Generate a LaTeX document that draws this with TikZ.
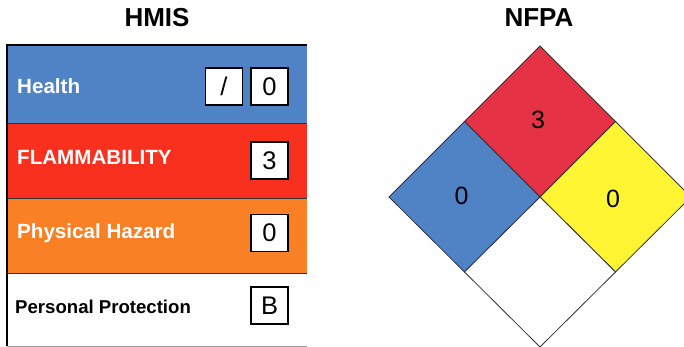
\documentclass[tikz,border=0pt]{standalone}
\usepackage{fontspec}
\setmainfont{Liberation Sans}
\definecolor{hblue}{HTML}{4F83C6}
\definecolor{hred}{HTML}{F9301E}
\definecolor{horange}{HTML}{FA8026}
\definecolor{nred}{HTML}{E63245}
\definecolor{nblue}{HTML}{4F83C6}
\definecolor{nyellow}{HTML}{FFF533}
\begin{document}
\begin{tikzpicture}[x=1pt,y=-1pt,
  title/.style={font=\fontsize{26}{30}\selectfont\bfseries},
  rowlabel/.style={anchor=west,font=\fontsize{20.6}{24}\selectfont\bfseries,text=white,inner sep=0pt},
  valbox/.style={draw=black,line width=1.6pt,fill=white,minimum width=37pt,minimum height=37pt,inner sep=0pt,font=\fontsize{25.5}{28}\selectfont},
  numtext/.style={font=\fontsize{25}{28}\selectfont,inner sep=0pt},
  diam/.style={draw=black!80,line width=0.8pt}]
\useasboundingbox (0,0) rectangle (684,347);
% HMIS
\node[title] (hmis) at (157,18) {HMIS};
\fill[hblue] (7,45) rectangle (307,123);
\fill[hred] (7,123) rectangle (307,198);
\fill[horange] (7,198) rectangle (307,273);
\fill[white] (7,273) rectangle (307,346);
\draw[line width=1.6pt] (307,45) -- (7,45) -- (7,346);
\draw[line width=0.8pt,black!80] (7,123) -- (307,123);
\draw[line width=0.8pt,black!80] (7,198) -- (307,198);
\draw[line width=0.8pt,black!80] (7,273) -- (307,273);
\draw[line width=0.8pt,black!40] (7,346) -- (307,346);
\node[rowlabel] (health) at (17,86) {Health};
\node[rowlabel] (flam) at (17,157) {FLAMMABILITY};
\node[rowlabel] (phys) at (17,233) {Physical Hazard};
\node[rowlabel,text=black,font=\fontsize{18.6}{22}\selectfont\bfseries] (pers) at (15,307) {Personal Protection};
\node[valbox] (hslash) at (224,86.5) {/};
\node[valbox] (hval) at (269.5,86.5) {0};
\node[valbox] (fval) at (269.5,160.5) {3};
\node[valbox] (pval) at (269.5,233) {0};
\node[valbox] (ppval) at (269.5,305.5) {B};
% NFPA
\node[title] (nfpa) at (539,18) {NFPA};
\coordinate (T) at (540,46);
\coordinate (C) at (540,197);
\coordinate (L) at (389,197);
\coordinate (R) at (691,197);
\coordinate (B) at (540,347);
\coordinate (TL) at (464.5,121.5);
\coordinate (TR) at (615.5,121.5);
\coordinate (BL) at (464.5,272);
\coordinate (BR) at (615.5,272);
\filldraw[diam,fill=nred] (T) -- (TR) -- (C) -- (TL) -- cycle;
\filldraw[diam,fill=nblue] (TL) -- (C) -- (BL) -- (L) -- cycle;
\filldraw[diam,fill=nyellow] (TR) -- (R) -- (BR) -- (C) -- cycle;
\filldraw[diam,fill=white] (C) -- (BR) -- (B) -- (BL) -- cycle;
\node[numtext] (nflam) at (538,120) {3};
\node[numtext] (nhealth) at (461.5,196) {0};
\node[numtext] (ninst) at (613,199) {0};
\end{tikzpicture}
\end{document}
